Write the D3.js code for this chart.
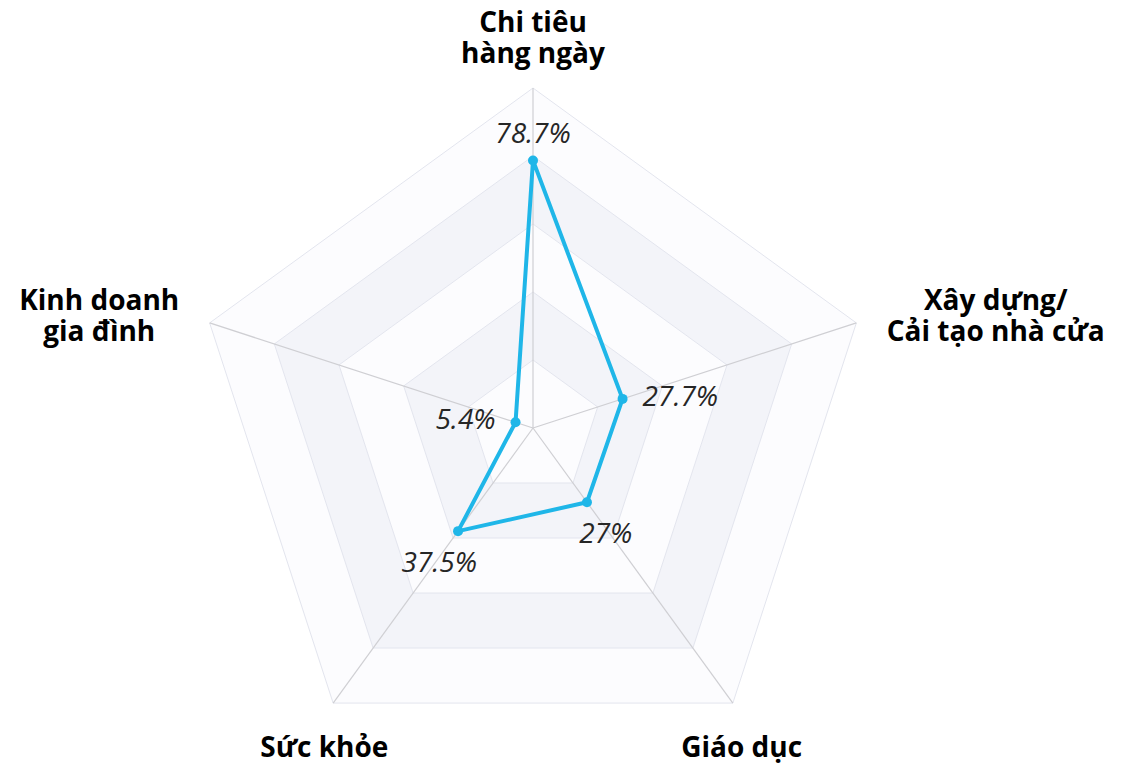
<!DOCTYPE html>
<html>
<head>
<meta charset="utf-8">
<script src="https://cdn.jsdelivr.net/npm/d3@7"></script>
<style>
  body { margin: 0; background: #fff; }
  svg { display: block; }
</style>
</head>
<body>
<div id="chart"></div>
<script>
// axis names (lines split by \n) and values in percent
const categories = ["Chi tiêu\nhàng ngày", "Xây dựng/\nCải tạo nhà cửa", "Giáo dục", "Sức khỏe", "Kinh doanh\ngia đình"];
const values = [78.7, 27.7, 27, 37.5, 5.4];
const valueLabels = ["78.7%", "27.7%", "27%", "37.5%", "5.4%"];
const levels = [20, 40, 60, 80, 100];

const width = 1136, height = 766;
const cx = 533, cy = 428, radius = 340;

const svg = d3.select("#chart").append("svg")
  .attr("width", width).attr("height", height);
const g = svg.append("g").attr("transform", `translate(${cx},${cy})`);

const r = d3.scaleLinear().domain([0, 100]).range([0, radius]);
const angle = d3.scalePoint().domain(d3.range(categories.length)).range([0, 2 * Math.PI * (categories.length - 1) / categories.length]);
const unit = i => [Math.sin(angle(i)), -Math.cos(angle(i))];
const pt = (i, v) => { const u = unit(i); return [u[0] * r(v), u[1] * r(v)]; };
const ring = v => d3.range(categories.length).map(i => pt(i, v));

// split areas (bands), outermost first
const bandFill = ["#fcfcfe", "#f3f4f9", "#fcfcfe", "#f3f4f9", "#fcfcfe"];
levels.slice().reverse().forEach((lv, k) => {
  const outer = ring(lv);
  const prev = levels[levels.length - 2 - k];
  const inner = prev ? ring(prev).reverse() : [];
  const path = "M" + outer.join("L") + "Z" + (inner.length ? "M" + inner.join("L") + "Z" : "");
  g.append("path").attr("d", path).attr("fill", bandFill[k]).attr("fill-rule", "evenodd");
});

// split lines
g.selectAll(".split").data(levels).join("polygon")
  .attr("class", "split")
  .attr("points", d => ring(d).join(" "))
  .attr("fill", "none")
  .attr("stroke", "#e3e5ee")
  .attr("stroke-width", 1);

// axis lines
g.selectAll(".axis").data(categories).join("line")
  .attr("class", "axis")
  .attr("x1", 0).attr("y1", 0)
  .attr("x2", (d, i) => pt(i, 100)[0])
  .attr("y2", (d, i) => pt(i, 100)[1])
  .attr("stroke", "#cfcfd3")
  .attr("stroke-width", 1.2);

// data line
const pts = values.map((v, i) => pt(i, v));
g.append("path")
  .attr("d", d3.line().curve(d3.curveLinearClosed)(pts))
  .attr("fill", "none")
  .attr("stroke", "#1fb6e8")
  .attr("stroke-width", 4)
  .attr("stroke-linejoin", "round");

g.selectAll(".dot").data(pts).join("circle")
  .attr("class", "dot")
  .attr("cx", d => d[0]).attr("cy", d => d[1])
  .attr("r", 5)
  .attr("fill", "#1fb6e8");

// value labels
g.selectAll(".val").data(valueLabels).join("text")
  .attr("class", "val")
  .each(function (d, i) {
    const u = unit(i), p = pts[i];
    const side = Math.abs(u[0]) > 0.8;
    d3.select(this)
      .attr("x", p[0] + u[0] * (side ? 21 : 32))
      .attr("y", p[1] + (side ? -4 : u[1] * 32 + 4))
      .attr("text-anchor", side ? (u[0] > 0 ? "start" : "end") : "middle")
      .attr("dominant-baseline", "central");
  })
  .attr("font-family", "'Open Sans', sans-serif")
  .attr("font-style", "italic")
  .attr("font-size", 28)
  .attr("fill", "#262626")
  .text(d => d);

// axis names
const lineH = 31, fs = 28;
categories.forEach((name, i) => {
  const u = unit(i);
  const bottom = u[1] > 0.5;
  const gap = bottom ? 15 : 32;
  const px = u[0] * (radius + gap), py = u[1] * (radius + gap);
  const lines = name.split("\n");
  const t = g.append("text")
    .attr("font-family", "'Open Sans', sans-serif")
    .attr("font-weight", 700)
    .attr("font-size", fs)
    .attr("fill", "#000")
    .attr("text-anchor", "middle");
  const spans = lines.map((l, k) => t.append("tspan").text(l));
  const w = d3.max(spans, s => s.node().getComputedTextLength());
  let bx;
  if (u[0] > 0.7) bx = px + w / 2;
  else if (u[0] < -0.7) bx = px - w / 2;
  else bx = px;
  let firstBase;
  const n = lines.length;
  if (u[1] < -0.7) firstBase = py + 7 - (n - 1) * lineH;
  else if (bottom) firstBase = py + 42;
  else firstBase = py - ((n - 1) * lineH) / 2 + 12;
  spans.forEach((s, k) => s.attr("x", bx).attr("y", firstBase + k * lineH));
});
</script>
</body>
</html>
